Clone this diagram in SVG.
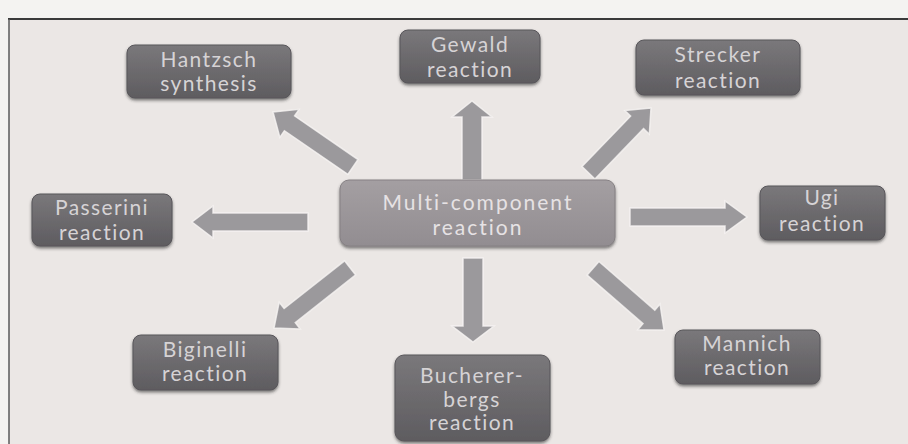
<svg xmlns="http://www.w3.org/2000/svg" width="908" height="444" viewBox="0 0 908 444">
<defs>
<linearGradient id="gBox" x1="0" y1="0" x2="0" y2="1">
<stop offset="0" stop-color="#7a787b"/>
<stop offset="0.5" stop-color="#6c6a6d"/>
<stop offset="1" stop-color="#5e5c60"/>
</linearGradient>
<linearGradient id="gMain" x1="0" y1="0" x2="0" y2="1">
<stop offset="0" stop-color="#a49fa2"/>
<stop offset="1" stop-color="#928d91"/>
</linearGradient>
<filter id="sh" x="-10%" y="-10%" width="120%" height="130%">
<feDropShadow dx="0" dy="2" stdDeviation="1.5" flood-color="#2a2a2a" flood-opacity="0.6"/>
</filter>
</defs>
<style>
.box{fill:url(#gBox);stroke:#58565a;stroke-width:1;filter:url(#sh)}
.main{fill:url(#gMain);stroke:#858083;stroke-width:1;filter:url(#sh)}
.t{font-family:Lato,"Open Sans",sans-serif;font-size:21px;fill:#d6d3d5;text-anchor:middle;letter-spacing:1.4px}
.tm{font-family:Lato,"Open Sans",sans-serif;font-size:21px;fill:#e6e2e4;text-anchor:middle;letter-spacing:2px}
.arr{fill:#9b999c;stroke:#f7f5f4;stroke-width:1.5;stroke-opacity:0.8}
</style>
<rect x="0" y="0" width="908" height="444" fill="#f4f3f1"/>
<rect x="9" y="19" width="899" height="425" fill="#ebe7e5"/>
<line x1="8" y1="19" x2="908" y2="19" stroke="#3a3a3a" stroke-width="2"/>
<line x1="9" y1="19" x2="9" y2="444" stroke="#5a5a5a" stroke-width="1.5"/>

<g id="connectors">
<polygon class="arr" transform="translate(273,112) rotate(214.5)" points="0,0 -20,-17 -20,-9 -97,-9 -97,9 -20,9 -20,17"/>
<polygon class="arr" transform="translate(472,101) rotate(-90)" points="0,0 -16,-20 -16,-10 -79,-10 -79,10 -16,10 -16,20"/>
<polygon class="arr" transform="translate(651,108) rotate(-46)" points="0,0 -20,-17 -20,-9 -90,-9 -90,9 -20,9 -20,17"/>
<polygon class="arr" transform="translate(192,222) rotate(180)" points="0,0 -21,-16 -21,-9 -116,-9 -116,9 -21,9 -21,16"/>
<polygon class="arr" transform="translate(747,217) rotate(0)" points="0,0 -22,-16 -22,-9 -117,-9 -117,9 -22,9 -22,16"/>
<polygon class="arr" transform="translate(274,328) rotate(141.7)" points="0,0 -20,-17 -20,-9 -97,-9 -97,9 -20,9 -20,17"/>
<polygon class="arr" transform="translate(473,342) rotate(90)" points="0,0 -16,-21 -16,-10 -84,-10 -84,10 -16,10 -16,21"/>
<polygon class="arr" transform="translate(664,330) rotate(41)" points="0,0 -20,-17 -20,-9 -94,-9 -94,9 -20,9 -20,17"/>
</g>

<g id="multi">
<rect class="main" x="340" y="180" width="275" height="66" rx="9"/>
<text class="tm" x="478" y="210">Multi-component</text>
<text class="tm" x="478" y="235">reaction</text>
</g>
<g id="hantzsch">
<rect class="box" x="127" y="45" width="164" height="53" rx="8"/>
<text class="t" x="209" y="67">Hantzsch</text>
<text class="t" x="209" y="91">synthesis</text>
</g>
<g id="gewald">
<rect class="box" x="400" y="30" width="140" height="53" rx="8"/>
<text class="t" x="470" y="52">Gewald</text>
<text class="t" x="470" y="77">reaction</text>
</g>
<g id="strecker">
<rect class="box" x="636" y="40" width="164" height="55" rx="8"/>
<text class="t" x="718" y="62">Strecker</text>
<text class="t" x="718" y="88">reaction</text>
</g>
<g id="passerini">
<rect class="box" x="32" y="194" width="140" height="52" rx="8"/>
<text class="t" x="102" y="215">Passerini</text>
<text class="t" x="102" y="240">reaction</text>
</g>
<g id="ugi">
<rect class="box" x="760" y="186" width="125" height="54" rx="8"/>
<text class="t" x="822" y="205">Ugi</text>
<text class="t" x="822" y="231">reaction</text>
</g>
<g id="biginelli">
<rect class="box" x="133" y="335" width="145" height="55" rx="8"/>
<text class="t" x="205" y="357">Biginelli</text>
<text class="t" x="205" y="381">reaction</text>
</g>
<g id="bucherer">
<rect class="box" x="395" y="355" width="155" height="86" rx="9"/>
<text class="t" x="472" y="383">Bucherer-</text>
<text class="t" x="472" y="407">bergs</text>
<text class="t" x="472" y="430">reaction</text>
</g>
<g id="mannich">
<rect class="box" x="675" y="330" width="145" height="54" rx="8"/>
<text class="t" x="747" y="351">Mannich</text>
<text class="t" x="747" y="375">reaction</text>
</g>
</svg>
